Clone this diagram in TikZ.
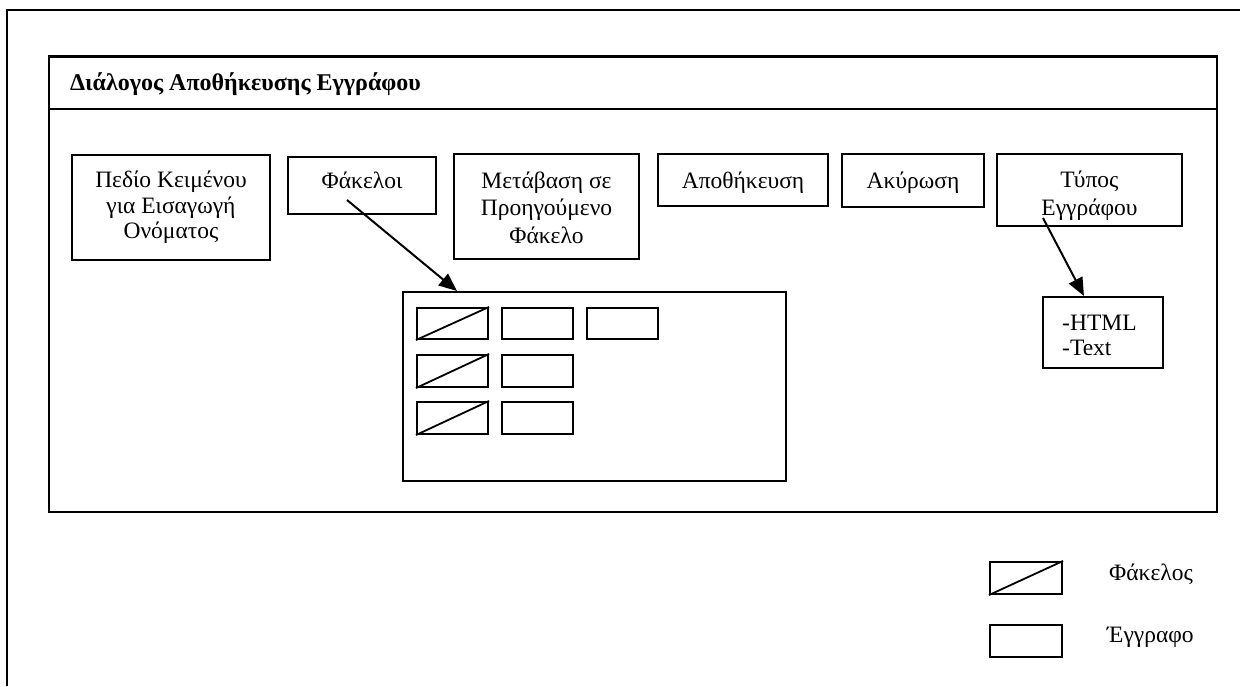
\documentclass[tikz,border=0pt]{standalone}
\usepackage{fontspec}
\setmainfont{Liberation Serif}
\usetikzlibrary{arrows.meta,calc,fit}
% fixed height for the first line of each caption, so captions line up by baseline
\newcommand\lblstrut{\rule{0pt}{20pt}}

\begin{document}
\begin{tikzpicture}[x=1pt,y=-1pt,
  frame/.style={draw=black,line width=2pt},
  item/.style={draw=black,line width=2.1pt,inner sep=0pt},
  lbl/.style={anchor=north,inner sep=0pt,align=center,
    font=\fontsize{23.5}{27.5}\selectfont},
  folderdiag/.style={line width=1.8pt},
  conn/.style={line width=2pt,-{Triangle[length=18pt,width=15pt]}},
  legendtext/.style={anchor=base west,inner sep=0pt,font=\fontsize{23.5}{27}\selectfont},
]
\useasboundingbox[fill=white] (0,0) rectangle (1240,686);

% page frame, running past the right and bottom edges
\draw[frame] (6.5,686) -- (6.5,9.5) -- (1240,9.5);

% dialog window with its title bar
\node[item,fit={(49,56.5) (1217,512)}] (dialog) {};
\draw[line width=2.1pt] (dialog.west |- 0,109) -- (dialog.east |- 0,109);
\node[anchor=base west,inner sep=0pt,font=\fontsize{24}{28}\selectfont\bfseries]
  (title) at (70,90) {Διάλογος Αποθήκευσης Εγγράφου};

% controls of the dialog (caption baselines start 20pt below each label's top)
\node[item,fit={(72,155) (270,260)}] (namefield) {};
\node[lbl,font=\fontsize{23.5}{25.5}\selectfont] (namefield-text) at (171,167.3)
  {\lblstrut Πεδίο Κειμένου\\για Εισαγωγή\\Ονόματος};
\node[item,fit={(288,157) (436,214)}] (folders) {};
\node[lbl] (folders-text) at (362,168) {\lblstrut Φάκελοι};
\node[item,fit={(454,154) (639,259)}] (goback) {};
\node[lbl] (goback-text) at (546.5,168) {\lblstrut Μετάβαση σε\\Προηγούμενο\\Φάκελο};
\node[item,fit={(658,154) (828,206)}] (save) {};
\node[lbl] (save-text) at (743,168.3) {\lblstrut Αποθήκευση};
\node[item,fit={(842,154) (984,207)}] (cancel) {};
\node[lbl] (cancel-text) at (913,168) {\lblstrut Ακύρωση};
\node[item,fit={(997,154) (1182,226)}] (doctype) {};
\node[lbl] (doctype-text) at (1089.5,167.3) {\lblstrut Τύπος\\Εγγράφου};
\node[item,fit={(1043,297) (1163,368)}] (formats) {};
\node[lbl,anchor=north west,align=left,font=\fontsize{23.5}{25}\selectfont]
  (formats-text) at (1062,310) {\lblstrut -HTML\\-Text};

% folder contents list
\node[item,fit={(403,292) (786,481)}] (list) {};
\node[item,fit={(417,308) (488,339)}] (f1) {};
\node[item,fit={(502,308) (573,339)}] (d1) {};
\node[item,fit={(587,308) (658,339)}] (d2) {};
\node[item,fit={(417,355) (488,387)}] (f2) {};
\node[item,fit={(502,355) (573,387)}] (d3) {};
\node[item,fit={(417,402) (488,434)}] (f3) {};
\node[item,fit={(502,402) (573,434)}] (d4) {};
\foreach \f in {f1,f2,f3}
  \draw[folderdiag] (\f.south west) -- (\f.north east);

% connectors
\coordinate (foldersout) at (347,200);
\coordinate (listin) at ($(list.north west)+(55,0)$);
\draw[conn] (foldersout) -- (listin);
\coordinate (doctypeout) at (1043,218);
\coordinate (formatsin) at ($(formats.north west)+(42,0)$);
\draw[conn] (doctypeout) -- (formatsin);

% legend
\node[item,fit={(990,562) (1062,594)}] (legfolder) {};
\draw[folderdiag] (legfolder.south west) -- (legfolder.north east);
\node[legendtext] (legfolder-text) at (1109,580) {Φάκελος};
\node[item,fit={(990,625) (1062,657)}] (legdoc) {};
\node[legendtext] (legdoc-text) at (1107,642) {Έγγραφο};
\end{tikzpicture}
\end{document}
